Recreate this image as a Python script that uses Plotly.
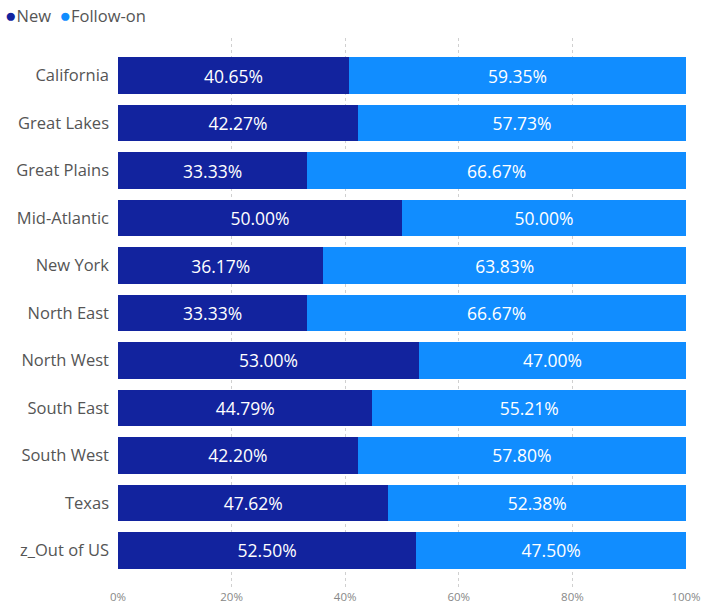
import plotly.graph_objects as go

regions = ["California", "Great Lakes", "Great Plains", "Mid-Atlantic", "New York",
           "North East", "North West", "South East", "South West", "Texas", "z_Out of US"]
new_pct = [40.65, 42.27, 33.33, 50.00, 36.17, 33.33, 53.00, 44.79, 42.20, 47.62, 52.50]
follow_pct = [59.35, 57.73, 66.67, 50.00, 63.83, 66.67, 47.00, 55.21, 57.80, 52.38, 47.50]
x_ticks = [0, 20, 40, 60, 80, 100]
series_names = ["New", "Follow-on"]
series_colors = ["#12239E", "#118DFF"]

font_family = "Open Sans, Noto Sans, sans-serif"

fig = go.Figure()
for name, vals, color in zip(series_names, [new_pct, follow_pct], series_colors):
    fig.add_trace(go.Bar(
        y=regions, x=vals, name=name, orientation="h",
        marker=dict(color=color, line=dict(width=0)),
        text=[f"{v:.2f}%" for v in vals], textposition="inside",
        insidetextanchor="middle",
        textfont=dict(color="white", size=17.5, family=font_family),
        hoverinfo="skip", showlegend=False,
    ))

# compact legend like the original (dot + label)
legend_html = "&nbsp;&nbsp;".join(
    f"<span style='color:{c};font-size:19px'>●</span>{n}" for n, c in zip(series_names, series_colors)
)
fig.add_annotation(
    text=legend_html, xref="paper", yref="paper",
    x=(3 - 118) / 568, y=1 + (38 - 15) / 550, xanchor="left", yanchor="middle",
    showarrow=False, font=dict(size=16.5, color="#555555", family=font_family),
)

fig.update_layout(
    width=702, height=608,
    barmode="stack", bargap=0.24,
    plot_bgcolor="white", paper_bgcolor="white",
    margin=dict(l=118, r=16, t=38, b=20, autoexpand=False),
    font=dict(family=font_family, color="#555555"),
    showlegend=False,
    uniformtext=dict(mode="show", minsize=10),
)

fig.update_xaxes(
    range=[0, 100], tickvals=x_ticks, ticktext=[f"{t}%" for t in x_ticks],
    showgrid=True, gridcolor="#D0D0D0", griddash="dot", gridwidth=1,
    zeroline=False, showline=False, ticks="",
    tickfont=dict(size=11.5, color="#888888"),
)
fig.update_yaxes(
    autorange=False, range=[10.79, -0.79],
    showgrid=False, zeroline=False, showline=False, ticks="",
    ticklabelstandoff=8,
    tickfont=dict(size=16.5, color="#555555"),
)

fig.write_html(
    "out.html",
    config={"displayModeBar": False},
    post_script="document.body.style.margin='0';document.body.style.overflow='hidden';",
)
